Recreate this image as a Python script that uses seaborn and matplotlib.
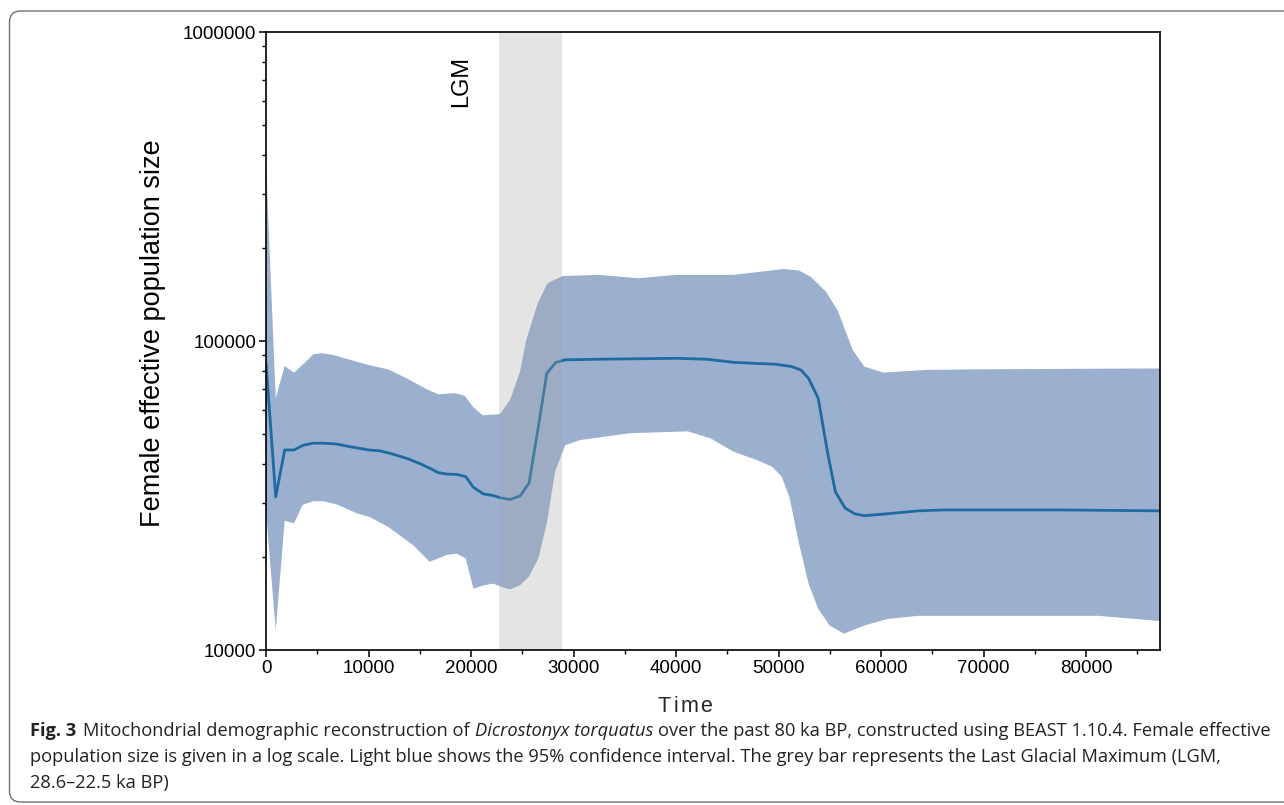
import numpy as np
import matplotlib
matplotlib.use("Agg")
import matplotlib.pyplot as plt
import seaborn as sns
from matplotlib.patches import FancyBboxPatch
from matplotlib.ticker import FixedLocator, NullFormatter, FixedFormatter, LogLocator

# ---------------- data ----------------
mean_time = [0, 950, 1820, 2730, 3640, 4620, 5600, 6890, 8190, 10020, 11120, 12100,
             13730, 15020, 16000, 16810, 17630, 18600, 19480, 20230, 21200, 22180,
             22830, 23800, 24780, 25660, 26570, 27390, 28270, 29180, 32500, 40000,
             43000, 45620, 47490, 49740, 51240, 52170, 52920, 53860, 54790, 55540,
             56480, 57420, 58350, 60600, 63600, 66220, 70000, 77450, 87300]
mean_ne = [85000, 31300, 44400, 44400, 46000, 46700, 46700, 46400, 45500, 44400, 44100,
           43300, 41700, 40100, 38700, 37500, 37100, 37000, 36400, 33600, 32000, 31600,
           31100, 30700, 31500, 34700, 52900, 78600, 85300, 86900, 87300, 87900, 87300,
           85300, 84700, 84100, 82700, 80600, 75700, 65300, 43300, 32500, 28800, 27600,
           27200, 27600, 28200, 28400, 28400, 28400, 28200]

upper_time = [0, 950, 1820, 2730, 3800, 4620, 5440, 6580, 8190, 10020, 11940, 13730,
              15670, 16810, 18440, 19400, 20230, 21140, 22830, 23800, 24780, 25380,
              26500, 27440, 28930, 32500, 36250, 40000, 45620, 48240, 50490, 52000,
              53120, 54610, 55740, 57230, 58350, 60220, 64340, 70000, 87300]
upper_ne = [377000, 65300, 83000, 79000, 85100, 90600, 91300, 90100, 86900, 83600, 80900,
            75700, 69800, 67200, 67800, 66400, 61000, 57500, 58000, 64400, 79600, 100700,
            132400, 153700, 162300, 163700, 159600, 163700, 163700, 167600, 171000,
            169000, 161500, 144500, 126000, 93500, 82700, 79000, 80600, 81000, 81500]

lower_time = [0, 950, 1820, 2730, 3580, 4620, 5600, 6890, 8840, 10150, 11940, 14380,
              15950, 17630, 18600, 19480, 20230, 21270, 22180, 22990, 23800, 24780,
              25660, 26570, 27390, 28200, 29180, 30640, 35500, 41130, 43370, 45620,
              47870, 49360, 50300, 51050, 51990, 52920, 53860, 54980, 56370, 58350,
              60600, 63600, 70000, 81200, 87300]
lower_ne = [28000, 11600, 26200, 25700, 29500, 30300, 30300, 29600, 27700, 26900, 25000,
            21800, 19300, 20300, 20500, 19800, 15800, 16200, 16400, 16000, 15700, 16200,
            17300, 19800, 25700, 37800, 46000, 47800, 50300, 51000, 48400, 43800, 41200,
            39200, 36400, 31300, 22100, 16400, 13600, 12000, 11300, 12000, 12600, 12900,
            12900, 12900, 12400]

lgm_span = [22700, 28900]
x_ticks = [0, 10000, 20000, 30000, 40000, 50000, 60000, 70000, 80000]
y_ticks = [10000, 100000, 1000000]
y_tick_labels = ["10000", "100000", "1000000"]

caption_line1 = [("Fig. 3", "bold", "normal"),
                 ("Mitochondrial demographic reconstruction of", "normal", "normal"),
                 ("Dicrostonyx torquatus", "normal", "italic"),
                 ("over the past 80 ka BP, constructed using BEAST 1.10.4. Female effective",
                  "normal", "normal")]
caption_line2 = ("population size is given in a log scale. Light blue shows the 95% confidence "
                 "interval. The grey bar represents the Last Glacial Maximum (LGM,")
caption_line3 = "28.6\u201322.5 ka BP)"

# ---------------- styling ----------------
sns.set_style("ticks")
plt.rcParams['font.family'] = ['Liberation Sans', 'DejaVu Sans']

W, H = 1284, 805
fig = plt.figure(figsize=(W / 100, H / 100), dpi=100)

# background overlay in pixel coordinates (border + free text)
bg = fig.add_axes([0, 0, 1, 1], zorder=0)
bg.set_xlim(0, W)
bg.set_ylim(H, 0)
bg.axis('off')
bg.add_patch(FancyBboxPatch((9.5, 11), W + 30, 791,
                            boxstyle="round,pad=0,rounding_size=11",
                            fc='white', ec='#707070', lw=1.0))

ax = fig.add_axes([266 / W, 1 - 650 / H, (1160 - 266) / W, (650 - 32) / H], zorder=1)
ax.set_facecolor('none')

band_x = np.concatenate([upper_time, lower_time[::-1]])
band_y = np.concatenate([upper_ne, lower_ne[::-1]])
ax.fill(band_x, band_y, color='#9BB0CF', lw=0, zorder=1)
sns.lineplot(x=mean_time, y=mean_ne, ax=ax, color='#1F6AA0', lw=2.0, zorder=3,
             estimator=None, sort=False)
ax.axvspan(lgm_span[0], lgm_span[1], color='#A5A5A5', alpha=0.29, lw=0, zorder=4)

ax.set_yscale('log')
ax.set_ylim(1e4, 1e6)
ax.set_xlim(0, 87200)

ax.yaxis.set_major_locator(FixedLocator(y_ticks))
ax.yaxis.set_major_formatter(FixedFormatter(y_tick_labels))
ax.yaxis.set_minor_locator(LogLocator(base=10, subs=np.arange(2, 10)))
ax.yaxis.set_minor_formatter(NullFormatter())
ax.xaxis.set_major_locator(FixedLocator(x_ticks))
ax.set_xticklabels([str(v) for v in x_ticks])
ax.xaxis.set_minor_locator(FixedLocator([v + 5000 for v in x_ticks]))

for s in ax.spines.values():
    s.set_visible(True)
    s.set_linewidth(1.2)
    s.set_color('black')
    s.set_zorder(6)
ax.tick_params(which='major', direction='out', length=5, width=1.1, labelsize=13.5,
               pad=2, colors='black')
ax.tick_params(which='minor', direction='out', length=3, width=1.0, colors='black')
ax.tick_params(axis='x', which='both', top=False)
ax.tick_params(axis='y', which='both', right=False)
ax.set_xlabel('')
ax.set_ylabel('')

# axis labels and LGM label in pixel coordinates
bg.text(153, 333, 'Female effective population size', rotation=90,
        ha='center', va='center', fontsize=19.5, color='black')
bg.text(461, 81, 'LGM', rotation=90, ha='center', va='center', fontsize=17,
        color='black')

fig.canvas.draw()
renderer = fig.canvas.get_renderer()
inv = bg.transData.inverted()


def text_width(t):
    bb = t.get_window_extent(renderer)
    p0 = inv.transform((bb.x0, bb.y0))
    p1 = inv.transform((bb.x1, bb.y1))
    return abs(p1[0] - p0[0])


# "Time" with slightly spread letters
letters = "Time"
objs = [bg.text(0, 711.5, c, fontsize=15.5, ha='left', va='baseline') for c in letters]
widths = [text_width(o) for o in objs]
gap = max((54 - sum(widths)) / 3.0, 0)
xpos = 658
for o, w in zip(objs, widths):
    o.set_x(xpos)
    xpos += w + gap

# caption
cap_font = ['Open Sans', 'DejaVu Sans']


def make(txt, size, weight='normal', style='normal', x=0, y=0):
    return bg.text(x, y, txt, fontsize=size, fontweight=weight, fontstyle=style,
                   family=cap_font, ha='left', va='baseline', color='#222222')


# fit caption font size so that the first line spans 30..1275 px
base = 10.0
tmp = [make(t, base, w, s) for t, w, s in caption_line1]
sp = make("a a", base)
sp2 = make("aa", base)
space_w = text_width(sp) - text_width(sp2)
total = sum(text_width(o) for o in tmp) + 7 * (base / 10.0) + 2 * space_w
for o in tmp + [sp, sp2]:
    o.remove()
size = base * 1245.0 / total

x0 = 30
line1_objs = [make(t, size, w, s, 0, 736) for t, w, s in caption_line1]
sp = make("a a", size)
sp2 = make("aa", size)
space_w = text_width(sp) - text_width(sp2)
sp.remove()
sp2.remove()
gaps = [7, space_w, space_w]
xpos = x0
for i, o in enumerate(line1_objs):
    o.set_x(xpos)
    xpos += text_width(o)
    if i < len(gaps):
        xpos += gaps[i]

make(caption_line2, size, x=x0, y=762)
make(caption_line3, size, x=x0, y=788)

fig.savefig('out.png', dpi=100)
